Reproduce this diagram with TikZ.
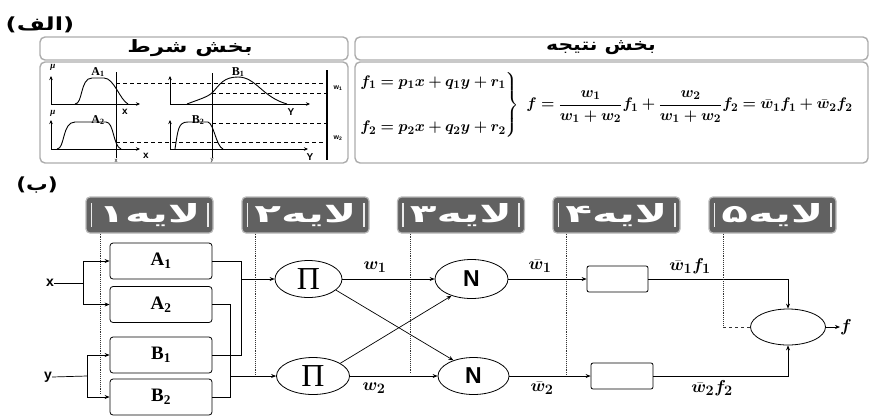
\documentclass[tikz,border=0pt]{standalone}
\usepackage{amsmath}
\usepackage{bm}
\usepackage{graphicx}
\usepackage{fontspec}
\setmainfont{Liberation Serif}
\setsansfont{Liberation Sans}
\newfontfamily\fa[Script=Arabic]{DejaVu Sans}
\TeXXeTstate=1
\usetikzlibrary{arrows.meta,shapes.geometric,calc}
\begin{document}
\begin{tikzpicture}[x=1pt,y=-1pt,
  >={Stealth[length=5pt,width=4pt]},
  hdr/.style={draw=gray!65, line width=1.4pt, rounded corners=5pt},
  hdrtxt/.style={font=\fa\bfseries\fontsize{17}{17}\selectfont, inner sep=0pt},
  layerbox/.style={draw=gray!55, fill=black!62, rounded corners=4pt,
     minimum width=127pt, minimum height=36pt, line width=1.2pt, text=white, inner sep=0pt,
     font=\fa\bfseries\fontsize{25}{25}\selectfont},
  mbox/.style={draw, rounded corners=3pt, minimum width=102pt, minimum height=36pt,
     line width=0.8pt, inner sep=0pt, font=\bfseries\fontsize{19}{20}\selectfont},
  ell/.style={draw, ellipse, line width=0.8pt, inner sep=0pt},
  rbox/.style={draw, rounded corners=2pt, minimum height=26pt, line width=0.8pt, inner sep=0pt},
  dotl/.style={densely dotted, line width=0.9pt, gray!40!black},
  conn/.style={line width=0.7pt},
  wlab/.style={inner sep=0pt, font=\fontsize{19}{20}\selectfont},
  inlab/.style={inner sep=0pt, font=\sffamily\bfseries\fontsize{14}{14}\selectfont},
  axis/.style={->, line width=1pt, >={Stealth[length=4pt,width=3.5pt]}},
  mf/.style={line width=0.9pt},
  dsh/.style={line width=0.9pt, dash pattern=on 4pt off 3pt},
  plab/.style={inner sep=0pt, font=\bfseries\fontsize{12}{12}\selectfont},
  mulab/.style={inner sep=0pt, font=\bfseries\itshape\fontsize{9}{9}\selectfont},
  smalllab/.style={inner sep=0pt, font=\sffamily\bfseries\fontsize{10}{10}\selectfont},
  tinylab/.style={inner sep=0pt, font=\sffamily\fontsize{6}{6}\selectfont},
  wwlab/.style={inner sep=0pt, font=\sffamily\bfseries\fontsize{7}{7}\selectfont}
]
\useasboundingbox (0,0) rectangle (874,416);

% ---------- part (alef)
\node[inner sep=0pt, font=\fa\bfseries\fontsize{18}{18}\selectfont] (alef) at (40,25) {\scalebox{1.35}[1]{\beginR(الف)\endR}};
\draw[hdr] (40,37) rectangle (348,60);
\draw[hdr] (355,37) rectangle (868,60);
\node[hdrtxt] (hshart) at (190,48) {\scalebox{1.34}[1]{\beginR بخش شرط\endR}};
\node[hdrtxt] (hnat) at (601,48) {\scalebox{1.2}[1]{\beginR بخش نتیجه\endR}};
\draw[hdr] (40,62) rectangle (348,163);
\draw[hdr] (355,62) rectangle (868,163);

% membership plots
\draw[axis] (51,104) -- (51,76);
\draw[axis] (51,104) -- (140,104);
\draw[axis] (51,149) -- (51,120);
\draw[axis] (51,149) -- (140,149);
\draw[axis] (170,104) -- (170,76);
\draw[axis] (170,104) -- (310,104);
\draw[axis] (170,149) -- (170,120);
\draw[axis] (170,149) -- (308,149);
\draw[mf] (75,104) .. controls (83,104) and (80,78) .. (92,78) -- (104,78) .. controls (114,78) and (120,100) .. (128,104);
\draw[mf] (57,149) .. controls (65,149) and (62,122) .. (75,122) -- (106,122) .. controls (114,122) and (113,146) .. (121,149);
\draw[mf] (187,104) .. controls (200,99) and (208,97) .. (213,92) .. controls (220,84) and (224,77) .. (238,77) .. controls (256,77) and (262,97) .. (287,104);
\draw[mf] (175,149) .. controls (178,130) and (178,122) .. (188,122) -- (208,122) .. controls (214,124) and (216,146) .. (223,149);
\draw[line width=1pt] (116,72) -- (116,158);
\draw[line width=1pt] (212,73) -- (212,158);
\draw[line width=1.2pt] (327,70) -- (327,160);
\draw[dsh] (116,83) -- (327,83);
\draw[dsh] (212,93) -- (327,93);
\draw[dsh] (212,123) -- (327,123);
\draw[dsh] (116,142) -- (327,142);
\node[mulab] (mua) at (53,67) {μ};
\node[mulab] (mub) at (53,113) {μ};
\node[plab] (la1) at (98,72) {A\textsubscript{1}};
\node[plab] (la2) at (98,120) {A\textsubscript{2}};
\node[plab] (lb1) at (238,72) {B\textsubscript{1}};
\node[plab] (lb2) at (198,120) {B\textsubscript{2}};
\node[smalllab] (ax1) at (125,112) {x};
\node[smalllab] (ax2) at (146,156) {x};
\node[smalllab] (ay1) at (291,112) {Y};
\node[smalllab] (ay2) at (310,157) {Y};
\node[tinylab] (xx) at (116,161) {x};
\node[tinylab] (yy) at (212,161) {y};
\node[wwlab] (lw1) at (338,88) {w\textsubscript{1}};
\node[wwlab] (lw2) at (338,138) {w\textsubscript{2}};

% equations
\node[anchor=west, inner sep=0pt, font=\fontsize{15}{19}\selectfont] (eq) at (359,105)
 {\scalebox{1.065}{$\left.\begin{array}{@{}l@{}}
   \bm{f_1=p_1x+q_1y+r_1}\\[24pt]
   \bm{f_2=p_2x+q_2y+r_2}
 \end{array}\right\}\;
 \bm{f=\dfrac{w_1}{w_1+w_2}f_1+\dfrac{w_2}{w_1+w_2}f_2=\bar{w}_1f_1+\bar{w}_2f_2}$}};

% ---------- part (be)
\node[inner sep=0pt, font=\fa\bfseries\fontsize{18}{18}\selectfont] (be) at (37,185) {\scalebox{1.2}[1]{\beginR(ب)\endR}};

\foreach \n/\cx/\t in {1/149.5/۱, 2/305.5/۲, 3/461/۳, 4/616.5/۴, 5/772.5/۵}{
  \node[layerbox] (L\n) at (\cx,215) {\scalebox{1.75}[1]{\beginR لایه\t\endR}};
  \draw[gray!15, line width=1.8pt] ($(L\n.west)+(6,-12)$) -- ($(L\n.west)+(6,12)$);
  \draw[gray!15, line width=1.8pt] ($(L\n.east)+(-6,-12)$) -- ($(L\n.east)+(-6,12)$);
}

% dotted layer guides
\coordinate (d1) at (100,395);
\coordinate (d2) at (255,377);
\coordinate (d3) at (410,374);
\coordinate (d4) at (566,375);
\coordinate (d5) at (723,327);
\draw[dotl] (L1.south west -| d1) -- (d1);
\draw[dotl] (L2.south west -| d2) -- (d2);
\draw[dotl] (L3.south west -| d3) -- (d3);
\draw[dotl] (L4.south west -| d4) -- (d4);

% layer 1
\node[mbox] (A1) at (161,261) {A\textsubscript{1}};
\node[mbox] (A2) at (161,304.5) {A\textsubscript{2}};
\node[mbox] (B1) at (161,355) {B\textsubscript{1}};
\node[mbox] (B2) at (161,397) {B\textsubscript{2}};

\node[inlab] (xin) at (50,283) {x};
\node[inlab] (yin) at (48,377) {y};
\coordinate (xj) at (83,283);
\coordinate (yj) at (87,376);
\draw[conn] (xin.east) -- (xj);
\draw[conn,->] (xj) |- (A1.west);
\draw[conn,->] (xj) |- (A2.west);
\draw[conn] (yin.east) -- (yj);
\draw[conn,->] (yj) |- (B1.west);
\draw[conn,->] (yj) |- (B2.west);

% layer 2
\node[ell, minimum width=67pt, minimum height=37pt, font=\fontsize{32}{32}\selectfont] (P1) at (308.5,279) {Π};
\node[ell, minimum width=73pt, minimum height=37pt, font=\fontsize{32}{32}\selectfont] (P2) at (313,376) {Π};
\coordinate (j1) at (241,279);
\coordinate (j2) at (230,376);
\draw[conn] (A1.east) -| (j1);
\draw[conn] (B1.east) -| (j1);
\draw[conn,->] (j1) -- (P1.west);
\draw[conn] (A2.east) -| (j2);
\draw[conn] (B2.east) -| (j2);
\draw[conn,->] (j2) -- (P2.west);

% layer 3
\node[ell, minimum width=73pt, minimum height=39pt, font=\sffamily\bfseries\fontsize{23}{23}\selectfont] (N1) at (471.5,279) {N};
\node[ell, minimum width=71pt, minimum height=37pt, font=\sffamily\bfseries\fontsize{23}{23}\selectfont] (N2) at (473.5,376) {N};
\draw[conn,->] (P1.east) -- (N1.west);
\draw[conn,->] (P2.east) -- (N2.west);
\draw[conn,->] (P1.-22) -- (N2.142);
\draw[conn,->] (P2.25) -- (N1.-140);
\node[wlab] (w1) at (375,267) {$\bm{w_1}$};
\node[wlab] (w2) at (374,388) {$\bm{w_2}$};

% layer 4
\node[rbox, minimum width=61pt] (R1) at (617.5,279) {};
\node[rbox, minimum width=62pt] (R2) at (622,376) {};
\draw[conn,->] (N1.east) -- (R1.west);
\draw[conn,->] (N2.east) -- (R2.west);
\node[wlab] (wb1) at (540,266) {$\bm{\bar{w}_1}$};
\node[wlab] (wb2) at (542,388) {$\bm{\bar{w}_2}$};

% layer 5
\node[ell, minimum width=75pt, minimum height=36pt] (C) at (788,327) {};
\draw[conn,->] (R1.east) -| (C.north);
\draw[conn,->] (R2.east) -| (C.south);
\node[wlab] (wf1) at (690,266) {$\bm{\bar{w}_1f_1}$};
\node[wlab] (wf2) at (712,388) {$\bm{\bar{w}_2f_2}$};
\node[wlab, anchor=west] (fout) at (840,327) {$\bm{f}$};
\draw[conn,->] (C.east) -- (fout.west);
\draw[dotl] (L5.south west -| d5) -- (d5);
\draw[dotl, dashed] (d5) -- (C.west);
\end{tikzpicture}
\end{document}
